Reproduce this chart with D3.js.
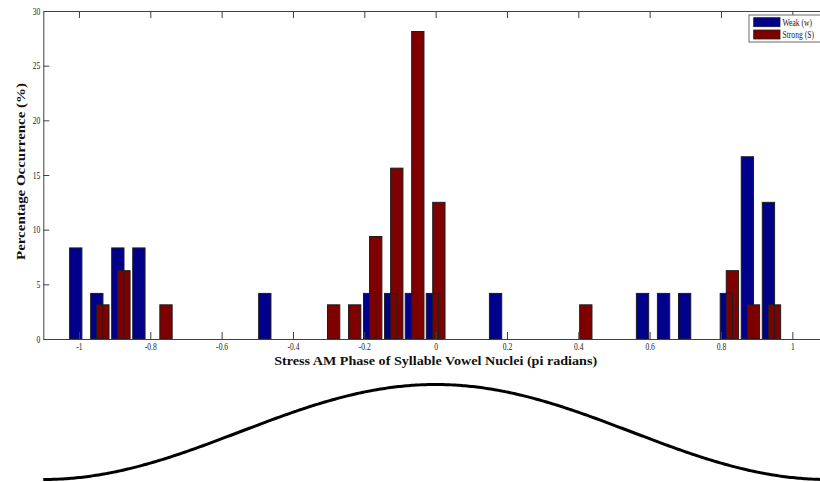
<!DOCTYPE html>
<html>
<head>
<meta charset="utf-8">
<script src="https://cdn.jsdelivr.net/npm/d3@7"></script>
<style>
  html, body { margin: 0; padding: 0; background: #fff; }
  svg { display: block; }
</style>
</head>
<body>
<svg id="chart" width="820" height="482"></svg>
<script>
// Histogram bin centres (phase in pi radians) and percentage of occurrence
const weakPhase = [-1.009, -0.950, -0.891, -0.832, -0.479, -0.185, -0.126, -0.068, -0.009,
                   0.168, 0.580, 0.639, 0.698, 0.815, 0.874, 0.933];
const weakPct   = [8.33, 4.17, 8.33, 8.33, 4.17, 4.17, 4.17, 4.17, 4.17,
                   4.17, 4.17, 4.17, 4.17, 4.17, 16.67, 12.5];

const strongPhase = [-0.933, -0.874, -0.756, -0.286, -0.227, -0.168, -0.109, -0.050, 0.009,
                     0.421, 0.832, 0.891, 0.950];
const strongPct   = [3.125, 6.25, 3.125, 3.125, 3.125, 9.375, 15.625, 28.125, 12.5,
                     3.125, 6.25, 3.125, 3.125];

const seriesNames = ["Weak (w)", "Strong (S)"];
const xTicks = [-1, -0.8, -0.6, -0.4, -0.2, 0, 0.2, 0.4, 0.6, 0.8, 1];
const yTicks = [0, 5, 10, 15, 20, 25, 30];

const colors = ["#00008b", "#7f0000"];
const edge = "#1e1e1e";
const axisColor = "#404040";
const barWidth = 0.0345;          // in phase units
const narrow = 0.76;              // horizontal squeeze for the small labels
const serif = "Liberation Serif, Times New Roman, serif";

const svg = d3.select("#chart");

// axes box (right edge lies just past the canvas)
const x = d3.scaleLinear().domain([-1.1, 1.1]).range([43.3, 828]);
const y = d3.scaleLinear().domain([0, 30]).range([339, 11]);

const weak = weakPhase.map((p, i) => ({ p, v: weakPct[i] }));
const strong = strongPhase.map((p, i) => ({ p, v: strongPct[i] }));

// faces of both series first, edges on top of all faces
const bars = svg.append("g");
function barRects(data) {
  return bars.append("g").selectAll("rect").data(data).join("rect")
    .attr("x", d => x(d.p - barWidth / 2))
    .attr("y", d => y(d.v))
    .attr("width", d => x(d.p + barWidth / 2) - x(d.p - barWidth / 2))
    .attr("height", d => y(0) - y(d.v));
}
barRects(weak).attr("fill", colors[0]);
barRects(strong).attr("fill", colors[1]);
[weak, strong].forEach(data =>
  barRects(data).attr("fill", "none").attr("stroke", edge).attr("stroke-width", 1));

// frame and ticks
const fmt = d => (d === 0 ? "0" : String(d));
function styleAxis(g) {
  g.select(".domain").attr("stroke", axisColor);
  g.selectAll(".tick line").attr("stroke", axisColor);
  g.selectAll(".tick text")
    .attr("fill", "#222")
    .attr("font-family", serif)
    .attr("font-size", 10);
}

const xBottom = svg.append("g").attr("transform", `translate(0,${y(0)})`)
  .call(d3.axisBottom(x).tickValues(xTicks).tickFormat(fmt).tickSizeInner(-7).tickSizeOuter(0))
  .call(styleAxis);
xBottom.selectAll(".tick text").attr("y", 4).attr("dy", "0.71em").attr("transform", `scale(${narrow},1)`);

svg.append("g").attr("transform", `translate(0,${y(30)})`)
  .call(d3.axisTop(x).tickValues(xTicks).tickFormat("").tickSizeInner(-7).tickSizeOuter(0))
  .call(styleAxis);

const yLeft = svg.append("g").attr("transform", `translate(${x.range()[0]},0)`)
  .call(d3.axisLeft(y).tickValues(yTicks).tickSizeInner(-6).tickSizeOuter(0))
  .call(styleAxis);
yLeft.selectAll(".tick text").attr("x", -3 / narrow).attr("transform", `scale(${narrow},1)`);

svg.append("g").attr("transform", `translate(${x.range()[1]},0)`)
  .call(d3.axisRight(y).tickValues(yTicks).tickFormat("").tickSizeInner(-6).tickSizeOuter(0))
  .call(styleAxis);

// axis titles
svg.append("text")
  .attr("x", x(0)).attr("y", 364.5)
  .attr("text-anchor", "middle")
  .attr("font-family", serif)
  .attr("font-weight", "bold").attr("font-size", 13.5)
  .attr("textLength", 323).attr("lengthAdjust", "spacingAndGlyphs")
  .attr("fill", "#111")
  .text("Stress AM Phase of Syllable Vowel Nuclei (pi radians)");

svg.append("text")
  .attr("transform", "translate(24.5,171.5) rotate(-90)")
  .attr("text-anchor", "middle")
  .attr("font-family", serif)
  .attr("font-weight", "bold").attr("font-size", 13.5)
  .attr("textLength", 177).attr("lengthAdjust", "spacingAndGlyphs")
  .attr("fill", "#111")
  .text("Percentage Occurrence (%)");

// legend
const legend = svg.append("g").attr("transform", "translate(749,15)");
legend.append("rect")
  .attr("width", 80).attr("height", 27)
  .attr("fill", "#fff").attr("stroke", "#6a6a6a").attr("stroke-width", 1);
seriesNames.forEach((name, i) => {
  const row = legend.append("g").attr("transform", `translate(0,${i * 12.3})`);
  row.append("rect")
    .attr("x", 4.7).attr("y", 2.7).attr("width", 26.3).attr("height", 9)
    .attr("fill", colors[i]).attr("stroke", edge).attr("stroke-width", 0.8);
  row.append("text")
    .attr("transform", `translate(33.5,7.3) scale(${narrow},1)`)
    .attr("dy", "0.35em")
    .attr("font-family", serif)
    .attr("font-size", 10)
    .attr("fill", "#222")
    .text(name);
});

// one cosine cycle spanning the same phase axis: trough at the edges, peak at 0
const cyc = d3.scaleLinear().domain([-1, 1]).range([479.5, 384.5]);
const curvePts = d3.range(0, 401).map(i => x.domain()[0] + i * (x.domain()[1] - x.domain()[0]) / 400);
svg.append("path")
  .datum(curvePts)
  .attr("fill", "none")
  .attr("stroke", "#000")
  .attr("stroke-width", 3)
  .attr("d", d3.line().x(p => x(p)).y(p => cyc(Math.cos(Math.PI * p / 1.1))));
</script>
</body>
</html>
